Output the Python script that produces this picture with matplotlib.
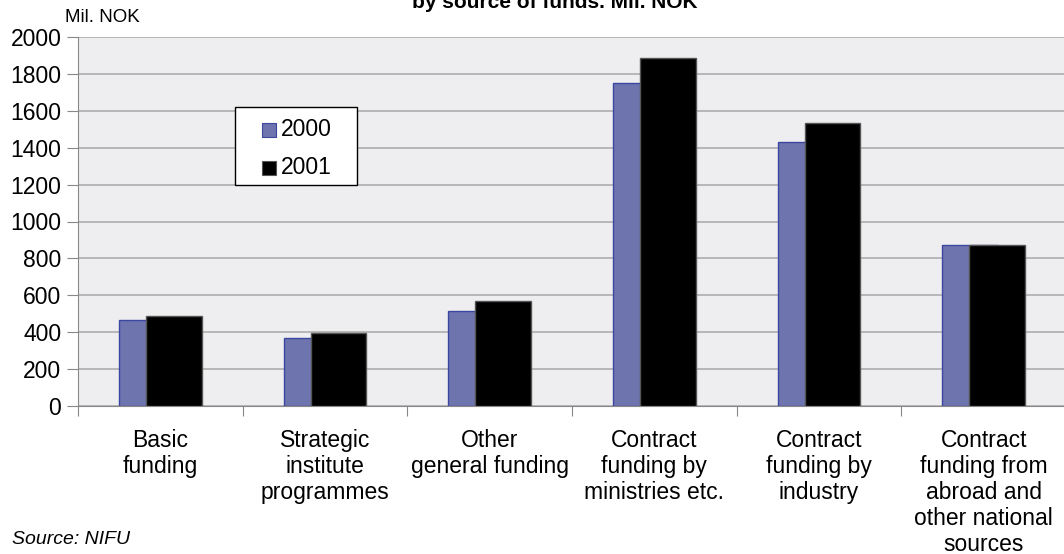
import numpy as np
import matplotlib
matplotlib.use("Agg")
import matplotlib.pyplot as plt
from matplotlib.patches import Rectangle

categories = ["Basic\nfunding", "Strategic\ninstitute\nprogrammes", "Other\ngeneral funding",
              "Contract\nfunding by\nministries etc.", "Contract\nfunding by\nindustry",
              "Contract\nfunding from\nabroad and\nother national\nsources"]
years = ["2000", "2001"]
funds_2000 = [466, 368, 515, 1752, 1429, 871]
funds_2001 = [489, 397, 569, 1888, 1536, 874]

plt.rcParams["font.family"] = ["Liberation Sans", "DejaVu Sans"]

W, H = 1064, 554
fig = plt.figure(figsize=(W / 100, H / 100), dpi=100)
ax = fig.add_axes([78 / W, (H - 406) / H, 988 / W, 369 / H])
ax.set_facecolor("#eeeef0")

colors = ["#6e74ae", "black"]
edges = ["#3c46a0", "#555555"]

x = np.arange(len(categories))
w = 0.34
ax.bar(x - 0.082, funds_2000, w, color=colors[0], edgecolor=edges[0], linewidth=1, zorder=2)
ax.bar(x + 0.082, funds_2001, w, color=colors[1], edgecolor=edges[1], linewidth=1, zorder=3)

ax.set_xlim(-0.5, len(categories) - 0.5)
ax.set_ylim(0, 2000)
ax.set_yticks(range(0, 2001, 200))
ax.yaxis.grid(True, color="#a8a8a8", linewidth=1.1, zorder=0)
ax.set_axisbelow(True)
ax.tick_params(axis="y", labelsize=16.5, length=8, color="#888888", pad=4)

ax.set_xticks(np.arange(-0.5, len(categories) - 0.4, 1))
ax.set_xticklabels([])
ax.tick_params(axis="x", length=7, color="#888888")
for xi, lab in zip(x, categories):
    ax.text(xi, -125, lab, ha="center", va="top", fontsize=16.5, linespacing=1.16)

for side in ["top", "right"]:
    ax.spines[side].set_visible(False)
for side in ["left", "bottom"]:
    ax.spines[side].set_color("#888888")

# legend box drawn by hand (pixel positions from top-left)
fig.patches.append(Rectangle((235 / W, 1 - 185 / H), 122 / W, 78 / H, transform=fig.transFigure,
                             facecolor="white", edgecolor="black", linewidth=1, zorder=5))
for i, (yr, c, ec) in enumerate(zip(years, colors, edges)):
    yc = 130 + i * 38
    fig.patches.append(Rectangle((262 / W, 1 - (yc + 7) / H), 14 / W, 14 / H, transform=fig.transFigure,
                                 facecolor=c, edgecolor=ec, linewidth=0.8, zorder=6))
    fig.text(281 / W, 1 - yc / H, yr, ha="left", va="center", fontsize=16.5, zorder=7)

fig.text(555 / W, 1 - 2 / H, "by source of funds. Mil. NOK", ha="center", va="center",
         fontsize=15, fontweight="bold")
fig.text(65 / W, 1 - 18 / H, "Mil. NOK", ha="left", va="center", fontsize=13.5)
fig.text(12 / W, 1 - 540 / H, "Source: NIFU", ha="left", va="center", fontsize=14, style="italic")

fig.savefig("out.png", dpi=100)
